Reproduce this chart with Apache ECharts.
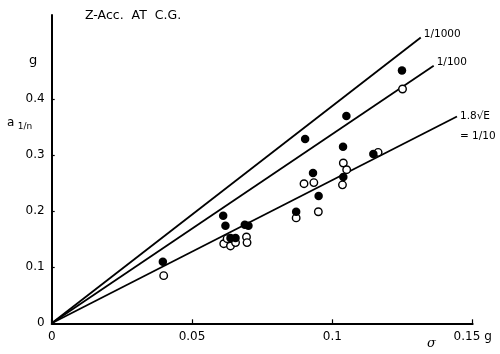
<!DOCTYPE html>
<html>
<head>
<meta charset="utf-8">
<script src="https://cdn.jsdelivr.net/npm/echarts@6/dist/echarts.min.js"></script>
<style>html,body{margin:0;padding:0;background:#fff}#c{width:500px;height:354px}</style>
</head>
<body>
<div id="c"></div>
<script>
// Filled (solid) points
var filledX = [0.0396, 0.0611, 0.0619, 0.0637, 0.0655, 0.0688, 0.0701, 0.0871, 0.0903, 0.0931, 0.0951, 0.1038, 0.1039, 0.1050, 0.1146, 0.1248];
var filledY = [0.110, 0.192, 0.174, 0.152, 0.152, 0.176, 0.174, 0.199, 0.329, 0.268, 0.227, 0.315, 0.261, 0.370, 0.302, 0.451];
// Open points
var openX = [0.0399, 0.0613, 0.0625, 0.0637, 0.0655, 0.0694, 0.0696, 0.0871, 0.0899, 0.0934, 0.0950, 0.1036, 0.1039, 0.1051, 0.1163, 0.1250];
var openY = [0.085, 0.142, 0.151, 0.138, 0.144, 0.154, 0.144, 0.188, 0.249, 0.251, 0.199, 0.247, 0.286, 0.274, 0.305, 0.418];
// Reference lines from origin
var lineLabels = ['1/1000', '1/100', '1.8\u221AE\n= 1/10'];
var lineEndX = [0.1315, 0.1361, 0.1444];
var lineEndY = [0.510, 0.4595, 0.369];
// Axis ticks
var xTicks = [0, 0.05, 0.1, 0.15];
var xTickLabels = ['0', '0.05', '0.1', '0.15 g'];
var yTicks = [0, 0.1, 0.2, 0.3, 0.4];
var yTickLabels = ['0', '0.1', '0.2', '0.3', '0.4'];

var FONT = 'DejaVu Sans';
var chart = echarts.init(document.getElementById('c'), null, {renderer: 'canvas'});

var series = [];
lineLabels.forEach(function (lab, i) {
  series.push({
    type: 'line',
    data: [[0, 0], [lineEndX[i], lineEndY[i]]],
    symbol: 'none',
    lineStyle: {color: '#000', width: 1.8},
    silent: true,
    z: 2,
    endLabel: {
      show: true,
      formatter: lab,
      color: '#000',
      fontFamily: FONT,
      fontSize: 10.5,
      lineHeight: 20,
      distance: 3,
      offset: i === 2 ? [0, 10] : [0, -3]
    }
  });
});
series.push({
  type: 'scatter',
  data: openX.map(function (x, i) { return [x, openY[i]]; }),
  symbol: 'circle',
  symbolSize: 7.5,
  itemStyle: {color: '#fff', borderColor: '#000', borderWidth: 1.4, opacity: 1},
  z: 3
});
series.push({
  type: 'scatter',
  data: filledX.map(function (x, i) { return [x, filledY[i]]; }),
  symbol: 'circle',
  symbolSize: 8.5,
  itemStyle: {color: '#000', opacity: 1},
  z: 4
});

chart.setOption({
  animation: false,
  backgroundColor: '#fff',
  grid: {left: 51.7, right: 27.3, top: 15, bottom: 30.7, containLabel: false},
  xAxis: {
    type: 'value', min: 0, max: 0.15, interval: 0.05,
    splitLine: {show: false},
    axisLine: {show: true, onZero: false, lineStyle: {color: '#000', width: 2}},
    axisTick: {show: true, inside: true, length: 4, lineStyle: {color: '#000', width: 1.2}, customValues: xTicks},
    axisLabel: {
      color: '#000', fontFamily: FONT, fontSize: 12, margin: 8,
      customValues: xTicks,
      formatter: function (v) { var k = xTicks.indexOf(v); return k >= 0 ? xTickLabels[k] : ''; }
    }
  },
  yAxis: {
    type: 'value', min: 0, max: 0.55, interval: 0.1,
    splitLine: {show: false},
    axisLine: {show: true, onZero: false, lineStyle: {color: '#000', width: 2}},
    axisTick: {show: true, inside: true, length: 3, lineStyle: {color: '#000', width: 1.2}, customValues: yTicks},
    axisLabel: {
      color: '#000', fontFamily: FONT, fontSize: 12, margin: 7,
      customValues: yTicks,
      formatter: function (v) { var k = yTicks.indexOf(v); return k >= 0 ? yTickLabels[k] : ''; }
    }
  },
  graphic: [
    {type: 'text', left: 85, top: 9, style: {text: 'Z-Acc.  AT  C.G.', fill: '#000', font: '12.5px "DejaVu Sans"'}},
    {type: 'text', left: 29, top: 54, style: {text: 'g', fill: '#000', font: '13px "DejaVu Sans"'}},
    {type: 'text', left: 7, top: 117, style: {
      text: '{a|a} {s|1/n}', fill: '#000',
      rich: {a: {fontSize: 12, fontFamily: FONT, fill: '#000'}, s: {fontSize: 9, fontFamily: FONT, fill: '#000', padding: [7, 0, 0, 0]}}
    }},
    {type: 'text', left: 427, top: 337, style: {text: '\u03C3', fill: '#000', font: 'italic 13px "DejaVu Serif"'}}
  ],
  series: series
});
</script>
</body>
</html>
